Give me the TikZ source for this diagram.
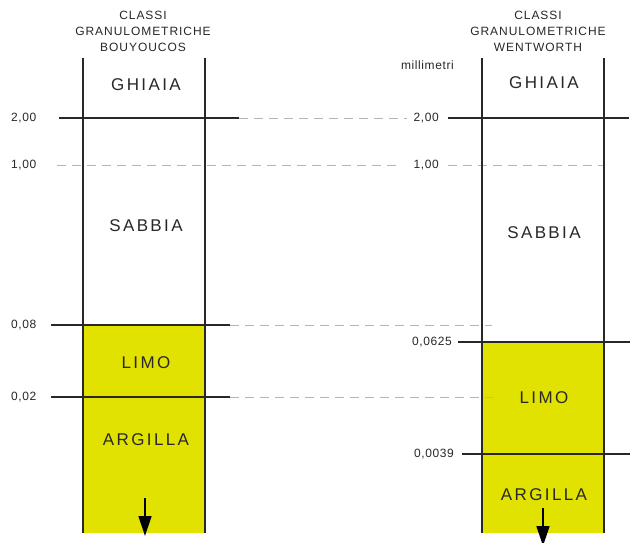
\documentclass[tikz,border=0pt]{standalone}
\usepackage{fontspec}
\setmainfont{Liberation Sans}
\newfontfamily\spacedfont[LetterSpace=14]{Liberation Sans}
\newfontfamily\headfont[LetterSpace=8]{Liberation Sans}
\newfontfamily\valfont[LetterSpace=5]{Liberation Sans}
\usetikzlibrary{arrows.meta}
\definecolor{soil}{RGB}{226,226,0}
\definecolor{ink}{RGB}{40,40,40}
\definecolor{dashgray}{RGB}{180,180,180}
\begin{document}
\begin{tikzpicture}[x=1pt,y=-1pt,
  col/.style={line width=1.8pt,draw=ink},
  limit/.style={line width=1.8pt,draw=ink},
  guide/.style={line width=0.9pt,draw=dashgray,dash pattern=on 9pt off 6pt},
  head/.style={font=\headfont\fontsize{12}{16}\selectfont,text=ink,align=center,inner sep=0pt},
  cls/.style={font=\spacedfont\fontsize{17}{19}\selectfont,text=ink,inner sep=0pt},
  val/.style={font=\valfont\fontsize{12}{13}\selectfont,text=ink,inner sep=0pt},
  downarrow/.style={line width=1.3pt,draw=black,-{Triangle[width=13pt,length=20pt]}}]
\useasboundingbox[fill=white] (0,0) rectangle (630,542);
% yellow fills
\fill[soil] (83,325) rectangle (205,533);
\fill[soil] (482,342) rectangle (604,533);
% dashed guides
\draw[guide] (239,118) -- (407,118);
\draw[guide] (57,165) -- (400,165);
\draw[guide] (448,165) -- (603,165);
\draw[guide] (230,325) -- (492,325);
\draw[guide] (230,397) -- (493,397);
% left column
\draw[col] (83,58) -- (83,533);
\draw[col] (205,58) -- (205,533);
\draw[limit] (59,118) -- (239,118);
\draw[limit] (51,325) -- (230,325);
\draw[limit] (51,397) -- (230,397);
% right column
\draw[col] (482,58) -- (482,533);
\draw[col] (604,58) -- (604,533);
\draw[limit] (448,118) -- (629,118);
\draw[limit] (458,342) -- (630,342);
\draw[limit] (462,454) -- (630,454);
% headers
\node[head] (hl) at (143,31) {CLASSI\\GRANULOMETRICHE\\BOUYOUCOS};
\node[head] (hr) at (538,31) {CLASSI\\GRANULOMETRICHE\\WENTWORTH};
\node[val,anchor=east] (mm) at (454,65) {millimetri};
% class names
\node[cls] (g1) at (146,85) {GHIAIA};
\node[cls] (s1) at (146,226) {SABBIA};
\node[cls] (l1) at (146,363) {LIMO};
\node[cls] (a1) at (146,440) {ARGILLA};
\node[cls] (g2) at (544,83) {GHIAIA};
\node[cls] (s2) at (544,233) {SABBIA};
\node[cls] (l2) at (544,398) {LIMO};
\node[cls] (a2) at (544,495) {ARGILLA};
% values left
\node[val,anchor=west] (v1) at (11,118) {2,00};
\node[val,anchor=west] (v2) at (11,165) {1,00};
\node[val,anchor=west] (v3) at (11,325) {0,08};
\node[val,anchor=west] (v4) at (11,397) {0,02};
% values right
\node[val,anchor=east] (w1) at (439,118) {2,00};
\node[val,anchor=east] (w2) at (439,165) {1,00};
\node[val,anchor=east] (w3) at (452,342) {0,0625};
\node[val,anchor=east] (w4) at (454,454) {0,0039};
% arrows
\coordinate (la) at (145,498);
\coordinate (lb) at (145,536);
\coordinate (ra) at (543,508);
\coordinate (rb) at (543,546);
\draw[downarrow] (la) -- (lb);
\draw[downarrow] (ra) -- (rb);
\end{tikzpicture}
\end{document}
